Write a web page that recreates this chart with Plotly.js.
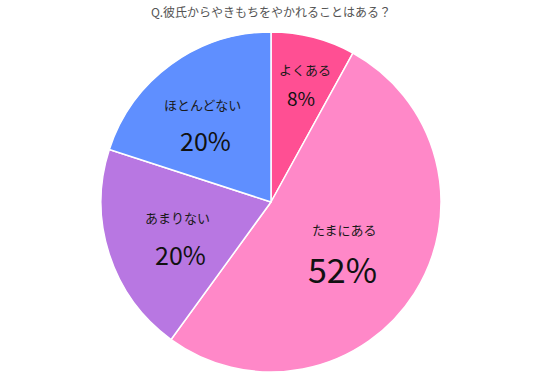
<!DOCTYPE html>
<html><head><meta charset="utf-8">
<script src="https://cdn.plot.ly/plotly-3.0.1.min.js"></script>
<style>html,body{margin:0;padding:0;background:#fff;}</style>
</head><body>
<div id="chart" style="width:546px;height:383px;"></div>
<script>
const labels = ["よくある", "たまにある", "あまりない", "ほとんどない"];
const values = [8, 52, 20, 20];
const colors = ["#FF4F93", "#FF88C8", "#B877E2", "#5F8FFF"];
const titleText = "Q.彼氏からやきもちをやかれることはある？";

const FONT = "Noto Sans CJK JP, Noto Sans, sans-serif";
// label placements (pixels) and percent font sizes
const place = [
  {lx: 305, ly: 69, px: 301, py: 98, ps: 19},
  {lx: 344, ly: 229, px: 342, py: 268, ps: 34},
  {lx: 177, ly: 217, px: 180, py: 254, ps: 25},
  {lx: 202, ly: 104, px: 205, py: 140, ps: 25}
];
const W = 546, H = 383;
const ann = [];
labels.forEach((l, i) => {
  const p = place[i];
  ann.push({x: p.lx / W, y: 1 - p.ly / H, xref: 'paper', yref: 'paper', xanchor: 'center', yanchor: 'middle',
    text: l, showarrow: false, font: {family: FONT, size: 13, color: '#1a1a1a'}});
  ann.push({x: p.px / W, y: 1 - p.py / H, xref: 'paper', yref: 'paper', xanchor: 'center', yanchor: 'middle',
    text: values[i] + '%', showarrow: false, font: {family: FONT, size: p.ps, color: '#111'}});
});

Plotly.newPlot('chart', [{
  type: 'pie',
  labels: labels,
  values: values,
  sort: false,
  direction: 'clockwise',
  rotation: 0,
  marker: {colors: colors, line: {color: '#fff', width: 1.5}},
  textinfo: 'none',
  hoverinfo: 'none',
  domain: {x: [101 / W, 441 / W], y: [1 - 372 / H, 1 - 32 / H]}
}], {
  width: W, height: H,
  margin: {l: 0, r: 0, t: 0, b: 0},
  paper_bgcolor: '#fff',
  showlegend: false,
  title: {text: titleText, x: 271 / W, xanchor: 'center', y: 1 - 13 / H, yanchor: 'middle',
    font: {family: FONT, size: 12, color: '#555'}},
  annotations: ann
}, {displayModeBar: false, staticPlot: true});
</script>
</body></html>
